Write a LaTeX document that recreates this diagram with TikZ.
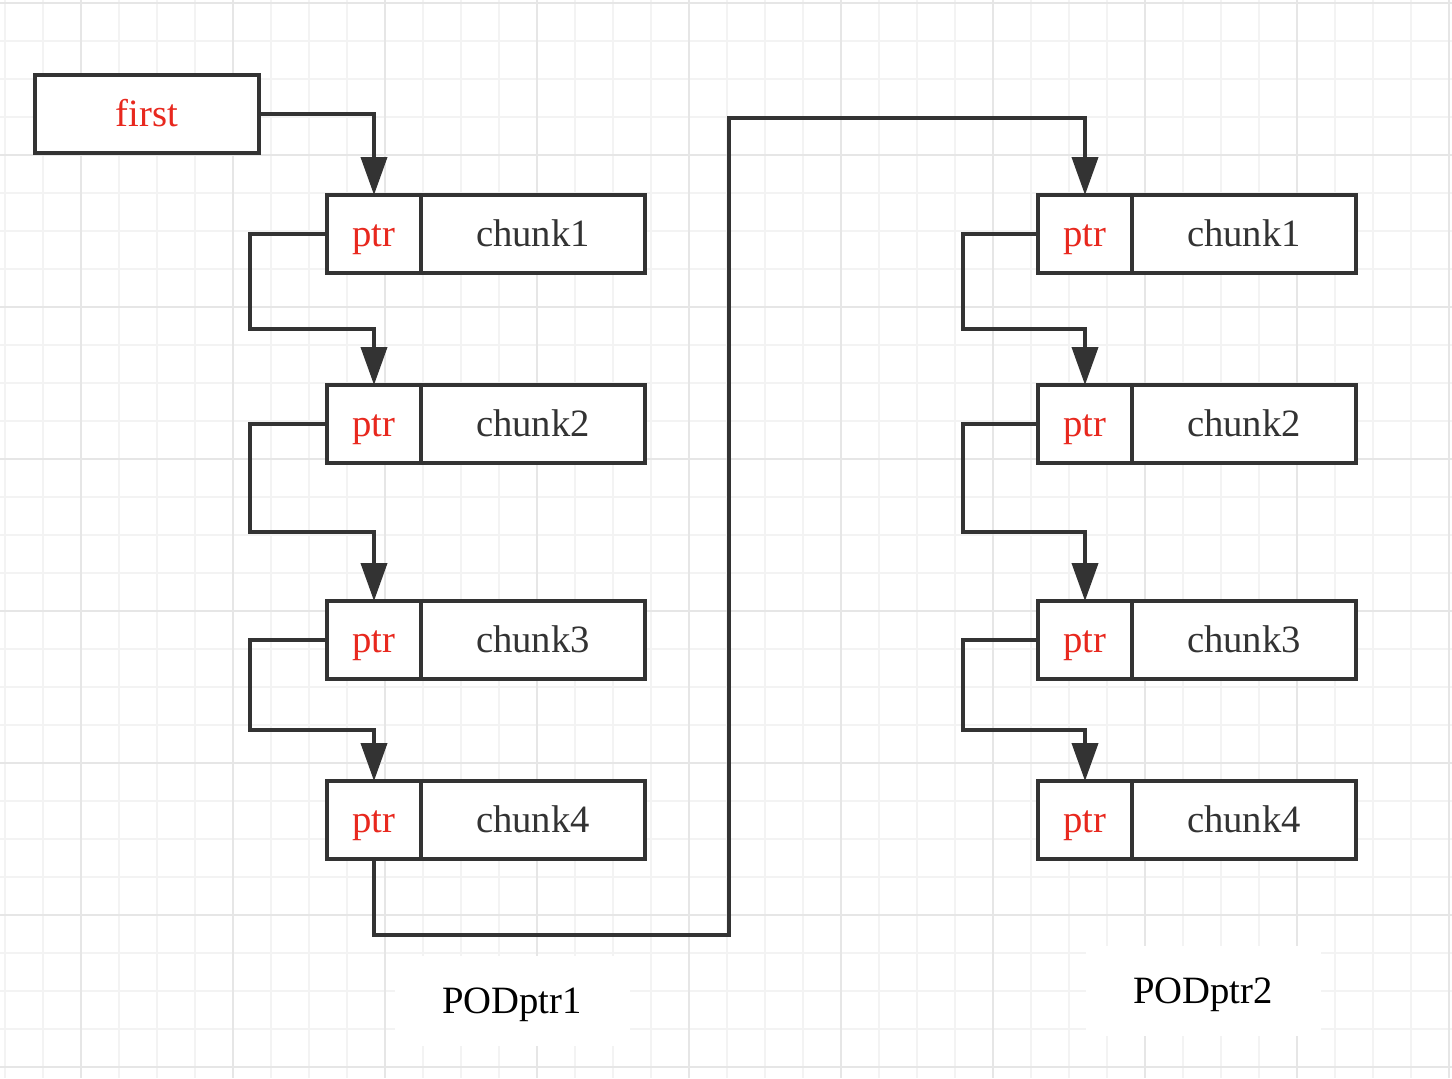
\documentclass[tikz,border=0pt]{standalone}
\usepackage{fontspec}
\setmainfont{Liberation Serif}
\usetikzlibrary{positioning, calc, arrows.meta}
\definecolor{linegray}{RGB}{51,51,51}
\definecolor{ptrred}{RGB}{232,40,30}
\definecolor{gridminor}{RGB}{243,243,243}
\definecolor{gridmajor}{RGB}{230,230,230}
\tikzstyle{Big_Text} = [font=\fontsize{22}{26}\selectfont,
                        text height=0.7cm,
                        text depth=0.19cm]
\tikzstyle{Ptr} = [rectangle,
                   Big_Text,
                   minimum width=1.88cm,
                   minimum height=1.56cm,
                   outer sep=0pt,
                   text centered,
                   draw=linegray,
                   line width=0.08cm,
                   fill=white,
                   text=ptrred]
\tikzstyle{Chunk} = [Ptr,
                     minimum width=4.48cm,
                     text=linegray]
\tikzstyle{Head} = [Ptr,
                    minimum width=4.48cm]
\tikzstyle{Pool_Label} = [rectangle,
                          Big_Text,
                          minimum width=4.7cm,
                          minimum height=1.8cm,
                          fill=white,
                          text=black]
\tikzstyle{Link} = [draw=linegray,
                    line width=0.08cm,
                    -{Triangle[length=0.76cm, width=0.52cm]}]
\tikzstyle{Grid_Minor} = [gridminor, line width=0.04cm]
\tikzstyle{Grid_Major} = [gridmajor, line width=0.04cm]

\begin{document}
\begin{tikzpicture}
        \fill[white] (0,0) rectangle (29.04,-21.56);
        \useasboundingbox (0,0) rectangle (29.04,-21.56);

        % grid
        \foreach \i in {0,...,38}
            \draw[Grid_Minor] ({0.106+0.76*\i},0) -- ++(0,-21.56);
        \foreach \j in {0,...,28}
            \draw[Grid_Minor] (0,{-0.066-0.76*\j}) -- ++(29.04,0);
        \foreach \i in {0,...,9}
            \draw[Grid_Major] ({1.626+3.04*\i},0) -- ++(0,-21.56);
        \foreach \j in {0,...,7}
            \draw[Grid_Major] (0,{-0.066-3.04*\j}) -- ++(29.04,0);

        \node (First) [Head] at (2.94,-2.28) {first};

        \node (L1_Ptr) [Ptr] at (7.48,-4.68) {ptr};
        \node (L1_Chunk) [Chunk, right=0cm of L1_Ptr] {chunk1};
        \node (L2_Ptr) [Ptr, below=2.24cm of L1_Ptr] {ptr};
        \node (L2_Chunk) [Chunk, right=0cm of L2_Ptr] {chunk2};
        \node (L3_Ptr) [Ptr, below=2.76cm of L2_Ptr] {ptr};
        \node (L3_Chunk) [Chunk, right=0cm of L3_Ptr] {chunk3};
        \node (L4_Ptr) [Ptr, below=2.04cm of L3_Ptr] {ptr};
        \node (L4_Chunk) [Chunk, right=0cm of L4_Ptr] {chunk4};

        \node (R1_Ptr) [Ptr, right=7.86cm of L1_Chunk] {ptr};
        \node (R1_Chunk) [Chunk, right=0cm of R1_Ptr] {chunk1};
        \node (R2_Ptr) [Ptr, below=2.24cm of R1_Ptr] {ptr};
        \node (R2_Chunk) [Chunk, right=0cm of R2_Ptr] {chunk2};
        \node (R3_Ptr) [Ptr, below=2.76cm of R2_Ptr] {ptr};
        \node (R3_Chunk) [Chunk, right=0cm of R3_Ptr] {chunk3};
        \node (R4_Ptr) [Ptr, below=2.04cm of R3_Ptr] {ptr};
        \node (R4_Chunk) [Chunk, right=0cm of R4_Ptr] {chunk4};

        \node (P1) [Pool_Label] at (10.24,-20.02) {PODptr1};
        \node (P2) [Pool_Label] at (24.06,-19.82) {PODptr2};

        \draw [Link] (First.east) -| (L1_Ptr.north);
        \draw [Link] (L1_Ptr.west) -- ++(-1.54,0) |- ($(L1_Ptr.south)!0.5!(L2_Ptr.north)$) -- (L2_Ptr.north);
        \draw [Link] (L2_Ptr.west) -- ++(-1.54,0) |- ($(L2_Ptr.south)!0.5!(L3_Ptr.north)$) -- (L3_Ptr.north);
        \draw [Link] (L3_Ptr.west) -- ++(-1.54,0) |- ($(L3_Ptr.south)!0.5!(L4_Ptr.north)$) -- (L4_Ptr.north);
        \draw [Link] (L4_Ptr.south) |- (14.58,-18.7) |- ($(R1_Ptr.north)+(0,1.54)$) -- (R1_Ptr.north);
        \draw [Link] (R1_Ptr.west) -- ++(-1.5,0) |- ($(R1_Ptr.south)!0.5!(R2_Ptr.north)$) -- (R2_Ptr.north);
        \draw [Link] (R2_Ptr.west) -- ++(-1.5,0) |- ($(R2_Ptr.south)!0.5!(R3_Ptr.north)$) -- (R3_Ptr.north);
        \draw [Link] (R3_Ptr.west) -- ++(-1.5,0) |- ($(R3_Ptr.south)!0.5!(R4_Ptr.north)$) -- (R4_Ptr.north);
\end{tikzpicture}
\end{document}
